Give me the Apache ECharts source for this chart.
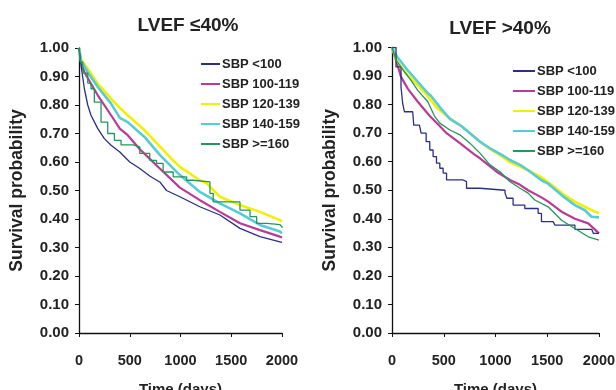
<!DOCTYPE html>
<html><head><meta charset="utf-8">
<script src="https://cdn.jsdelivr.net/npm/echarts@6/dist/echarts.min.js"></script>
<style>html,body{margin:0;padding:0;background:#fff}#c{width:616px;height:390px}</style>
</head><body><div id="c"></div>
<script>
// ---- data ----
const seriesNames = ["SBP <100", "SBP 100-119", "SBP 120-139", "SBP 140-159", "SBP >=160"];
const panelTitles = ["LVEF \u226440%", "LVEF >40%"];
const xTicks = [0, 500, 1000, 1500, 2000];

// LVEF <=40%
const L1_t = [0, 20, 53, 86, 118, 185, 250, 316, 402, 500, 599, 700, 796, 862, 994, 1191, 1388, 1586, 1783, 1980, 2000];
const L1_s = [1.0, 0.939, 0.857, 0.80, 0.764, 0.717, 0.682, 0.659, 0.635, 0.60, 0.577, 0.55, 0.53, 0.50, 0.478, 0.443, 0.414, 0.367, 0.338, 0.32, 0.318];
const L2_t = [0, 20, 53, 185, 316, 402, 480, 599, 700, 796, 994, 1191, 1388, 1586, 1783, 1980, 2000];
const L2_s = [1.0, 0.95, 0.915, 0.834, 0.764, 0.717, 0.694, 0.645, 0.61, 0.577, 0.51, 0.466, 0.425, 0.385, 0.361, 0.338, 0.335];
const L3_t = [0, 20, 86, 185, 316, 402, 480, 645, 796, 900, 994, 1191, 1260, 1300, 1388, 1586, 1783, 1980, 2000];
const L3_s = [1.0, 0.96, 0.927, 0.875, 0.822, 0.79, 0.764, 0.712, 0.655, 0.615, 0.583, 0.536, 0.525, 0.51, 0.478, 0.449, 0.425, 0.396, 0.392];
const L4_t = [0, 20, 86, 185, 316, 402, 480, 645, 796, 994, 1191, 1388, 1586, 1783, 1980, 2000];
const L4_s = [1.0, 0.955, 0.915, 0.863, 0.805, 0.755, 0.74, 0.688, 0.625, 0.554, 0.495, 0.455, 0.42, 0.379, 0.356, 0.35];
const L5_t = [0, 15, 37, 86, 118, 151, 217, 283, 349, 414, 533, 599, 697, 763, 829, 928, 1060, 1125, 1290, 1322, 1487, 1586, 1685, 1750, 1850, 1980, 2000];
const L5_s = [1.0, 0.95, 0.912, 0.877, 0.857, 0.81, 0.74, 0.70, 0.676, 0.66, 0.653, 0.63, 0.606, 0.595, 0.565, 0.548, 0.536, 0.53, 0.49, 0.46, 0.46, 0.431, 0.408, 0.385, 0.38, 0.373, 0.368];

// LVEF >40%
const R1_t = [0, 39, 87, 103, 120, 200, 210, 265, 281, 330, 365, 397, 430, 462, 494, 527, 688, 720, 850, 1092, 1110, 1170, 1250, 1283, 1412, 1444, 1557, 1573, 1735, 1767, 1929, 1945, 2000];
const R1_s = [1.0, 0.932, 0.862, 0.804, 0.775, 0.775, 0.728, 0.728, 0.70, 0.67, 0.641, 0.618, 0.595, 0.577, 0.56, 0.536, 0.53, 0.507, 0.50, 0.49, 0.472, 0.448, 0.448, 0.436, 0.419, 0.39, 0.39, 0.378, 0.378, 0.363, 0.363, 0.349, 0.349];
const R2_t = [0, 39, 87, 152, 249, 365, 475, 527, 656, 798, 850, 1011, 1140, 1237, 1315, 1444, 1509, 1638, 1767, 1896, 2000];
const R2_s = [1.0, 0.956, 0.897, 0.856, 0.81, 0.76, 0.72, 0.70, 0.665, 0.625, 0.612, 0.565, 0.536, 0.519, 0.50, 0.475, 0.46, 0.425, 0.40, 0.384, 0.349];
const R3_t = [0, 39, 87, 152, 249, 346, 430, 559, 669, 753, 850, 947, 1056, 1140, 1237, 1315, 1444, 1573, 1660, 1767, 1896, 2000];
const R3_s = [1.0, 0.96, 0.932, 0.903, 0.868, 0.83, 0.79, 0.752, 0.725, 0.70, 0.67, 0.645, 0.62, 0.598, 0.583, 0.57, 0.545, 0.51, 0.485, 0.46, 0.436, 0.419];
const R4_t = [0, 39, 87, 152, 249, 346, 378, 410, 475, 559, 669, 753, 850, 947, 1056, 1140, 1237, 1315, 1444, 1509, 1638, 1767, 1864, 1929, 2000];
const R4_s = [1.0, 0.973, 0.95, 0.92, 0.88, 0.84, 0.83, 0.815, 0.785, 0.75, 0.725, 0.70, 0.67, 0.647, 0.625, 0.606, 0.589, 0.57, 0.535, 0.523, 0.483, 0.448, 0.43, 0.407, 0.405];
const R5_t = [0, 39, 87, 120, 184, 249, 346, 410, 462, 559, 656, 753, 850, 947, 1044, 1140, 1237, 1315, 1380, 1509, 1638, 1767, 1896, 2000];
const R5_s = [1.0, 0.956, 0.932, 0.915, 0.885, 0.85, 0.81, 0.76, 0.735, 0.711, 0.694, 0.665, 0.63, 0.589, 0.565, 0.53, 0.507, 0.49, 0.466, 0.442, 0.395, 0.366, 0.337, 0.325];

// ---- styles ----
const colors = ["#2b2f86", "#b83b96", "#f2f000", "#56cbd9", "#23975a"];
const widths = [1.3, 2.2, 2.6, 2.6, 1.3];
const zip = (t, s) => t.map((d, i) => [d, s[i]]);
const panels = [
  [zip(L1_t, L1_s), zip(L2_t, L2_s), zip(L3_t, L3_s), zip(L4_t, L4_s), zip(L5_t, L5_s)],
  [zip(R1_t, R1_s), zip(R2_t, R2_s), zip(R3_t, R3_s), zip(R4_t, R4_s), zip(R5_t, R5_s)]
];
const stepFlags = [[false, false, false, false, true], [true, false, false, false, false]];

const font = "Liberation Sans, Arial, sans-serif";
const txt = "#222";
const grids = [
  {left: 79, right: 334, top: 48, bottom: 57},
  {left: 392, right: 17, top: 47.5, bottom: 57}
];
const titleX = [183, 495];
const titleY = [11, 14];
const legendPos = [{left: 201, top: 57, w: 19}, {left: 513, top: 64, w: 22}];

const option = {
  animation: false,
  title: panelTitles.map((t, i) => ({
    text: t, left: titleX[i], top: titleY[i], textAlign: 'center',
    textStyle: {fontFamily: font, fontWeight: 'bold', fontSize: 19, color: txt}
  })),
  legend: legendPos.map((p, i) => ({
    orient: 'vertical', left: p.left, top: p.top, itemWidth: p.w, itemHeight: 2,
    itemGap: 6, icon: 'rect', padding: 0,
    data: seriesNames,
    textStyle: {fontFamily: font, fontWeight: 'bold', fontSize: 13, color: txt, lineHeight: 14, padding: [0, 0, 0, -3]},
    selectedMode: false
  })),
  grid: grids.map(g => Object.assign({containLabel: false, outerBoundsMode: 'none'}, g)),
  xAxis: grids.map((g, i) => ({
    type: 'value', gridIndex: i, min: 0, max: 2000, interval: 500,
    name: 'Time (days)', nameLocation: 'middle', nameGap: 49,
    nameTextStyle: {fontFamily: font, fontWeight: 'bold', fontSize: 15, color: txt},
    axisLine: {show: true, lineStyle: {color: '#111', width: 1.3}},
    axisTick: {show: true, length: 4, lineStyle: {color: '#111'}},
    axisLabel: {fontFamily: font, fontWeight: 'bold', fontSize: 14.5, color: txt, margin: 20,
      formatter: v => xTicks.includes(v) ? String(v) : ''},
    splitLine: {show: false}
  })),
  yAxis: grids.map((g, i) => ({
    type: 'value', gridIndex: i, min: 0, max: 1, interval: 0.1,
    name: 'Survival probability', nameLocation: 'middle', nameGap: 53, nameRotate: 90,
    nameTextStyle: {fontFamily: font, fontWeight: 'bold', fontSize: 17.5, color: txt},
    axisLine: {show: true, lineStyle: {color: '#111', width: 1.3}},
    axisTick: {show: true, length: 4, lineStyle: {color: '#111'}},
    axisLabel: {fontFamily: font, fontWeight: 'bold', fontSize: 15, color: txt, margin: 10,
      formatter: v => v.toFixed(2)},
    splitLine: {show: false}
  })),
  series: []
};
panels.forEach((pan, pi) => {
  pan.forEach((data, si) => {
    option.series.push({
      type: 'line', name: seriesNames[si], xAxisIndex: pi, yAxisIndex: pi,
      data: data, showSymbol: false, symbol: 'none',
      step: stepFlags[pi][si] ? 'end' : false,
      color: colors[si],
      lineStyle: {color: colors[si], width: widths[si]},
      z: si === 0 || si === 4 ? 3 : 2
    });
  });
});
const chart = echarts.init(document.getElementById('c'), null, {renderer: 'canvas'});
chart.setOption(option);
</script></body></html>
